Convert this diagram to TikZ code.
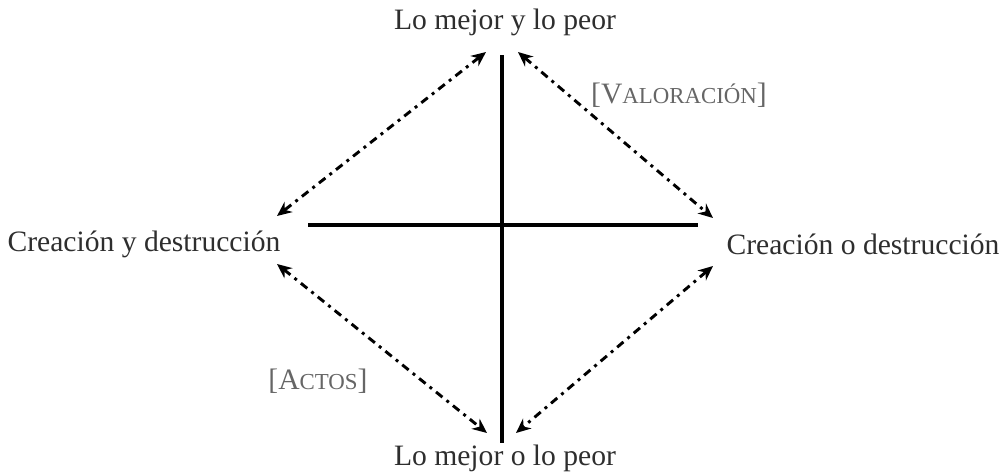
\documentclass[tikz,border=0pt]{standalone}
\usepackage{fontspec}
\setmainfont{Liberation Serif}
\usetikzlibrary{arrows.meta,positioning}
\definecolor{ink}{HTML}{2E2E2E}
\definecolor{note}{HTML}{666666}
\newcommand{\fakesc}[2]{#1{\fontsize{7.8pt}{9pt}\selectfont #2}}

\begin{document}
\begin{tikzpicture}[x=0.012cm, y=-0.012cm, >={Stealth[length=5pt,width=4.4pt]}]
  \useasboundingbox (0,0) rectangle (1005,473);
  \tikzset{
    pole/.style={font=\fontsize{10.1pt}{12pt}\selectfont, text=ink, inner sep=1pt},
    tag/.style={font=\fontsize{10.1pt}{12pt}\selectfont, text=note, inner sep=1pt},
    axis/.style={line width=1.4pt, black},
    link/.style={<->, line width=1pt, dash pattern=on 2.8pt off 1.8pt on 1pt off 1.8pt}
  }
  % Poles
  \node[pole] (top) at (505, 22) {Lo mejor y lo peor};
  \node[pole] (bottom) at (505, 458) {Lo mejor o lo peor};
  \node[pole] (left) at (144, 244) {Creación y destrucción};
  \node[pole] (right) at (863, 244) {Creación o destrucción};

  % Axes
  \coordinate (vtop) at (502, 55);
  \coordinate (vbot) at (502, 443);
  \coordinate (hleft) at (308, 225);
  \coordinate (hright) at (698, 225);
  \draw[axis] (vtop) -- (vbot);
  \draw[axis] (hleft) -- (hright);

  % Arrow ends
  \coordinate (tl1) at (486, 52);  \coordinate (tl2) at (277, 216);
  \coordinate (tr1) at (518, 52);  \coordinate (tr2) at (713, 218);
  \coordinate (bl1) at (277, 264); \coordinate (bl2) at (487, 433);
  \coordinate (br1) at (713, 266); \coordinate (br2) at (516, 433);
  \draw[link] (tl1) -- (tl2);
  \draw[link] (tr1) -- (tr2);
  \draw[link] (bl1) -- (bl2);
  \draw[link] (br1) -- (br2);

  % Labels
  \node[tag] (valor) at (679, 95) {[\fakesc{V}{ALORACIÓN}]};
  \node[tag] (actos) at (318, 381) {[\fakesc{A}{CTOS}]};
\end{tikzpicture}
\end{document}
